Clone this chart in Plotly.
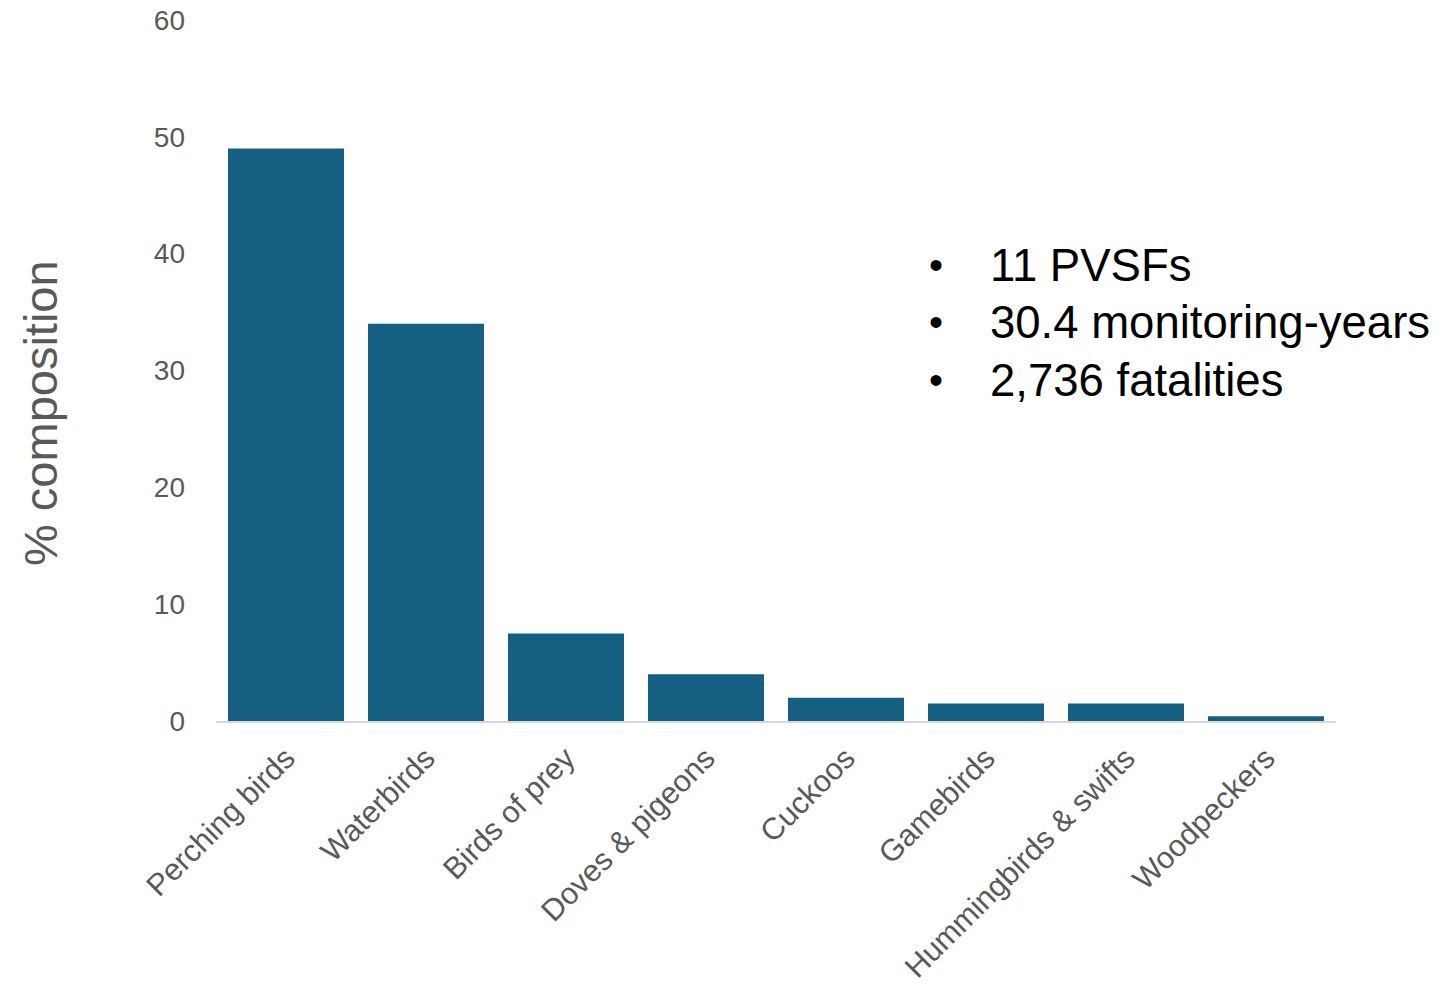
import plotly.graph_objects as go

# Composition of bird fatalities by group
categories = [
    "Perching birds", "Waterbirds", "Birds of prey", "Doves & pigeons",
    "Cuckoos", "Gamebirds", "Hummingbirds & swifts", "Woodpeckers",
]
percent = [49, 34, 7.5, 4, 2, 1.5, 1.5, 0.4]
y_ticks = [0, 10, 20, 30, 40, 50, 60]
summary_lines = ["11 PVSFs", "30.4 monitoring-years", "2,736 fatalities"]

W, H = 1445, 990
L, R, T, B = 216, 109, 20, 269
pw, ph = W - L - R, H - T - B


def px_x(x):
    return (x - L) / pw


def px_y(y):
    return (H - B - y) / ph


AXIS_FONT = "Liberation Sans, Arial, sans-serif"
GREY = "#595959"

fig = go.Figure(
    go.Bar(
        x=categories,
        y=percent,
        marker=dict(color="#156082", line=dict(width=0)),
        hoverinfo="x+y",
    )
)

annotations = [
    dict(
        text="% composition",
        xref="paper", yref="paper",
        x=px_x(40), y=px_y(413),
        xanchor="center", yanchor="middle",
        textangle=-90, showarrow=False,
        font=dict(family=AXIS_FONT, size=47, color=GREY),
    )
]
for i, line in enumerate(summary_lines):
    yc = px_y(265 + i * 57.5)
    annotations.append(dict(
        text="•", xref="paper", yref="paper", x=px_x(936), y=yc,
        xanchor="center", yanchor="middle", showarrow=False,
        font=dict(family=AXIS_FONT, size=40, color="#000000"),
    ))
    annotations.append(dict(
        text=line, xref="paper", yref="paper", x=px_x(988), y=yc,
        xanchor="left", yanchor="middle", showarrow=False,
        font=dict(family=AXIS_FONT, size=45.5, color="#000000"),
    ))

fig.update_layout(
    width=W, height=H,
    margin=dict(l=L, r=R, t=T, b=B, autoexpand=False),
    paper_bgcolor="white", plot_bgcolor="white",
    showlegend=False,
    bargap=24 / 140,
    annotations=annotations,
)
fig.update_xaxes(
    range=[-0.5, 7.5],
    showgrid=False, zeroline=False,
    showline=True, linecolor="#d9d9d9", linewidth=2,
    tickangle=-45, ticks="", ticklabelstandoff=5,
    tickfont=dict(family=AXIS_FONT, size=30.5, color=GREY),
)
fig.update_yaxes(
    range=[0, 60], tickvals=y_ticks,
    showgrid=False, zeroline=False, showline=False,
    ticks="", ticklabelstandoff=30,
    tickfont=dict(family=AXIS_FONT, size=28, color=GREY),
)

fig.write_html("out.html")
